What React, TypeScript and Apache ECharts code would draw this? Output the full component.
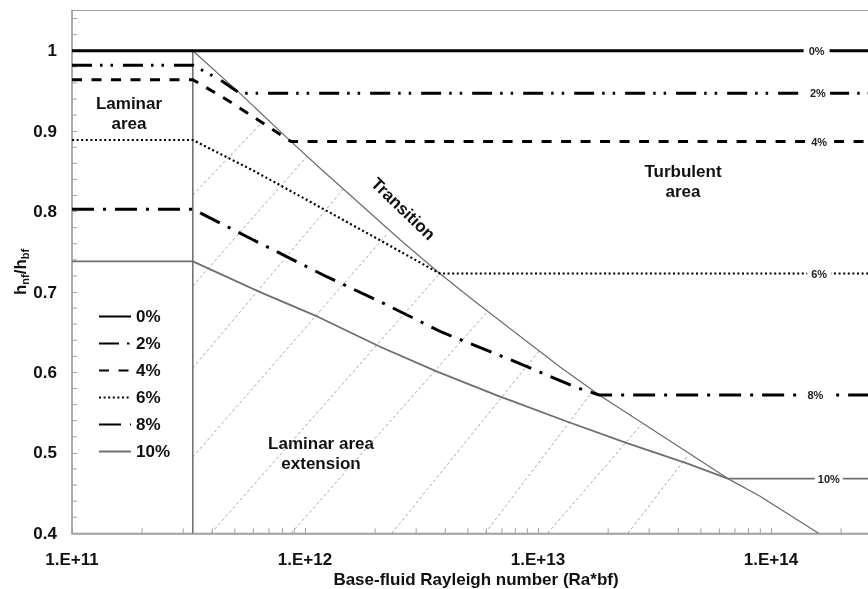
import React, { useEffect, useRef } from "react";
import * as echarts from "echarts";

// ---------- data ----------
const X_MIN = 1e11;
const X_MAX = 2.66e14;
const seriesNames = ["0%", "2%", "4%", "6%", "8%", "10%"];

const ra0 = [1e11, 2.66e14];
const h0 = [1.0, 1.0];

const ra2 = [1e11, 3.3e11, 4.31e11, 5.26e11, 2.66e14];
const h2 = [0.982, 0.982, 0.964, 0.947, 0.947];

const ra4 = [1e11, 3.3e11, 4.81e11, 8.71e11, 2.66e14];
const h4 = [0.964, 0.964, 0.936, 0.887, 0.887];

const ra6 = [1e11, 3.3e11, 6.09e11, 1.22e12, 2.14e12, 3.79e12, 2.66e14];
const h6 = [0.889, 0.889, 0.85, 0.802, 0.763, 0.723, 0.723];

const ra8 = [1e11, 3.3e11, 5.98e11, 1.24e12, 2.1e12, 3.87e12, 8.21e12, 1.47e13, 1.83e13, 2.66e14];
const h8 = [0.803, 0.803, 0.765, 0.719, 0.688, 0.65, 0.612, 0.581, 0.572, 0.572];

const ra10 = [1e11, 3.3e11, 6.53e11, 1.14e12, 2.1e12, 3.69e12, 6.87e12, 1.33e13, 2.41e13, 4.36e13, 6.53e13, 2.66e14];
const h10 = [0.738, 0.738, 0.699, 0.669, 0.632, 0.601, 0.57, 0.539, 0.512, 0.487, 0.468, 0.468];

// transition curve
const raT = [3.3e11, 5.26e11, 8.71e11, 1.18e12, 2.56e12, 3.79e12, 5.26e12, 1.24e13, 1.83e13, 6.53e13, 8.98e13, 1.6e14];
const hT = [1.0, 0.947, 0.887, 0.852, 0.765, 0.723, 0.69, 0.607, 0.572, 0.468, 0.446, 0.4];

// laminar limit (vertical line)
const raV = [3.3e11, 3.3e11];
const hV = [0.4, 1.0];

// hatch lines of the laminar area extension: start (Ra, h) -> end (Ra, h)
const hatchRaStart = [3.3e11, 3.3e11, 3.3e11, 3.3e11, 3.95e11, 8.71e11, 2.36e12, 5.93e12, 1.1e13, 2.43e13];
const hatchHStart = [0.8206, 0.7075, 0.6055, 0.4948, 0.4, 0.4, 0.4, 0.4, 0.4, 0.4];
const hatchRaEnd = [6.81e11, 1.02e12, 1.47e12, 2.23e12, 3.84e12, 6.1e12, 1.01e13, 1.67e13, 2.79e13, 4.41e13];
const hatchHEnd = [0.9163, 0.869, 0.829, 0.7709, 0.7249, 0.6764, 0.6266, 0.572, 0.5359, 0.4973];

// in-line labels on the turbulent part
const lineLabelRa = [1.57e14, 1.59e14, 1.61e14, 1.61e14, 1.55e14, 1.77e14];

// axis tick values
const yMinorTicks = [0.42, 0.44, 0.46, 0.48, 0.52, 0.54, 0.56, 0.58, 0.62, 0.64, 0.66, 0.68, 0.72, 0.74, 0.76, 0.78, 0.82, 0.84, 0.86, 0.88, 0.92, 0.94, 0.96, 0.98, 1.02, 1.04];
const xMinorMantissa = [2, 3, 4, 5, 6, 7, 8, 9];
const xDecades = [1e11, 1e12, 1e13, 1e14];

const FONT = '"Liberation Sans", Arial, sans-serif';

const zip = (a: number[], b: number[]) => a.map((v, i) => [v, b[i]]);

export default function App() {
  const ref = useRef<HTMLDivElement>(null);

  useEffect(() => {
    if (!ref.current) return;
    const chart = echarts.init(ref.current, undefined, { renderer: "svg" });

    const xMinorTicks: number[] = [];
    xDecades.forEach((d) => xMinorMantissa.forEach((m) => { if (m * d < X_MAX) xMinorTicks.push(m * d); }));

    const styles = [
      { color: "#000", width: 3, dash: "solid" as any, labelW: 26 },
      { color: "#000", width: 3, dash: [20, 8, 2.5, 8, 2.5, 10], labelW: 24 },
      { color: "#000", width: 3, dash: [10, 9.5], labelW: 24 },
      { color: "#000", width: 2.2, dash: [2, 2.6], labelW: 24 },
      { color: "#000", width: 3, dash: [22, 9, 3, 9], labelW: 26 },
      { color: "#6e6e6e", width: 1.8, dash: "solid" as any, labelW: 28 },
    ];
    const raArr = [ra0, ra2, ra4, ra6, ra8, ra10];
    const hArr = [h0, h2, h4, h6, h8, h10];

    const concSeries = seriesNames.map((name, i) => ({
      name,
      type: "line",
      data: zip(raArr[i], hArr[i]),
      symbol: "none",
      z: 4,
      lineStyle: { color: styles[i].color, width: styles[i].width, type: styles[i].dash, cap: "butt" },
      itemStyle: { color: styles[i].color },
      markPoint: {
        symbol: "rect",
        symbolSize: [styles[i].labelW, 12],
        itemStyle: { color: "#ffffff", opacity: 1 },
        silent: true,
        z: 10,
        label: {
          show: true,
          position: "inside",
          formatter: name,
          color: "#222",
          fontSize: 11,
          fontWeight: "bold",
          fontFamily: FONT,
        },
        data: [{ coord: [lineLabelRa[i], hArr[i][hArr[i].length - 1]] }],
      },
    }));

    const hatchData = hatchRaStart.map((r, i) => [r, hatchHStart[i], hatchRaEnd[i], hatchHEnd[i]]);

    chart.setOption({
      animation: false,
      textStyle: { fontFamily: FONT },
      grid: {
        left: 72,
        top: 10.5,
        right: -2,
        bottom: 55.7,
        containLabel: false,
        outerBoundsMode: "none",
        show: true,
        borderColor: "#a0a0a0",
        borderWidth: 1.2,
      },
      legend: {
        orient: "vertical",
        left: 93,
        top: 303,
        itemWidth: 32,
        itemHeight: 17,
        itemGap: 10,
        selectedMode: false,
        itemStyle: { opacity: 0 },
        data: seriesNames,
        textStyle: { fontSize: 17, fontWeight: "bold", color: "#111", fontFamily: FONT, lineHeight: 17 },
      },
      xAxis: {
        type: "log",
        logBase: 10,
        min: X_MIN,
        max: X_MAX,
        splitLine: { show: false },
        axisLine: { lineStyle: { color: "#a0a0a0", width: 1.5 } },
        axisTick: { inside: true, length: 5, lineStyle: { color: "#a0a0a0" } },
        axisLabel: {
          fontSize: 17,
          fontWeight: "bold",
          color: "#111",
          fontFamily: FONT,
          margin: 18,
          formatter: (v: number) => {
            const e = Math.log10(v);
            return Math.abs(e - Math.round(e)) < 1e-6 ? `1.E+${Math.round(e)}` : "";
          },
        },
        name: "Base-fluid Rayleigh number (Ra*bf)",
        nameLocation: "middle",
        nameGap: 38,
        nameMoveOverlap: false,
        nameTextStyle: { fontSize: 17, fontWeight: "bold", color: "#111", fontFamily: FONT, lineHeight: 17, padding: [0, 0, 0, 10] },
      },
      yAxis: {
        type: "value",
        min: 0.4,
        max: 1.05,
        interval: 0.1,
        splitLine: { show: false },
        axisLine: { lineStyle: { color: "#a0a0a0", width: 1.5 } },
        axisTick: { inside: true, length: 5, lineStyle: { color: "#a0a0a0" } },
        axisLabel: {
          fontSize: 17,
          fontWeight: "bold",
          color: "#111",
          fontFamily: FONT,
          margin: 15,
          formatter: (v: number) => {
            if (Math.abs(v * 10 - Math.round(v * 10)) > 1e-6) return "";
            return Math.abs(v - 1) < 1e-6 ? "1" : v.toFixed(1);
          },
        },
        name: "{a|h}{b|nf}{a|/h}{b|bf}",
        nameLocation: "middle",
        nameGap: 42,
        nameMoveOverlap: false,
        nameTextStyle: {
          rich: {
            a: { fontSize: 17, fontWeight: "bold", color: "#111", fontFamily: FONT, lineHeight: 20 },
            b: { fontSize: 11, fontWeight: "bold", color: "#111", fontFamily: FONT, verticalAlign: "bottom" },
          },
        },
      },
      series: [
        {
          name: "hatch",
          type: "custom",
          silent: true,
          z: 1,
          data: hatchData,
          encode: { x: [0, 2], y: [1, 3] },
          renderItem: (_p: any, api: any) => {
            const a = api.coord([api.value(0), api.value(1)]);
            const b = api.coord([api.value(2), api.value(3)]);
            return {
              type: "line",
              shape: { x1: a[0], y1: a[1], x2: b[0], y2: b[1] },
              style: { stroke: "#a8a8a8", lineWidth: 1, lineDash: [3, 2.5] },
            };
          },
        },
        {
          name: "xMinor",
          type: "custom",
          silent: true,
          z: 2,
          data: xMinorTicks.map((v) => [v, 0.4]),
          renderItem: (_p: any, api: any) => {
            const a = api.coord([api.value(0), api.value(1)]);
            return {
              type: "line",
              shape: { x1: a[0], y1: a[1], x2: a[0], y2: a[1] - 5 },
              style: { stroke: "#a0a0a0", lineWidth: 1 },
            };
          },
        },
        {
          name: "yMinor",
          type: "custom",
          silent: true,
          z: 2,
          data: yMinorTicks.map((v) => [X_MIN, v]),
          renderItem: (_p: any, api: any) => {
            const a = api.coord([api.value(0), api.value(1)]);
            return {
              type: "line",
              shape: { x1: a[0], y1: a[1], x2: a[0] + 5, y2: a[1] },
              style: { stroke: "#a0a0a0", lineWidth: 1 },
            };
          },
        },
        {
          name: "laminarLimit",
          type: "line",
          data: zip(raV, hV),
          symbol: "none",
          z: 3,
          lineStyle: { color: "#6a6a6a", width: 1.5 },
        },
        {
          name: "transition",
          type: "line",
          data: zip(raT, hT),
          symbol: "none",
          z: 3,
          lineStyle: { color: "#6a6a6a", width: 1.2 },
        },
        ...concSeries,
      ],
      graphic: [
        {
          type: "text",
          x: 129,
          y: 113,
          style: { text: "Laminar\narea", font: `bold 17px ${FONT}`, fill: "#111", align: "center", verticalAlign: "middle", lineHeight: 20 },
        },
        {
          type: "text",
          x: 683,
          y: 181,
          style: { text: "Turbulent\narea", font: `bold 17px ${FONT}`, fill: "#111", align: "center", verticalAlign: "middle", lineHeight: 20 },
        },
        {
          type: "text",
          x: 321,
          y: 453,
          style: { text: "Laminar area\nextension", font: `bold 17px ${FONT}`, fill: "#111", align: "center", verticalAlign: "middle", lineHeight: 20 },
        },
        {
          type: "text",
          x: 403,
          y: 209,
          rotation: -44 * Math.PI / 180,
          style: { text: "Transition", font: `bold 17px ${FONT}`, fill: "#111", align: "center", verticalAlign: "middle" },
        },
      ],
    });

    return () => chart.dispose();
  }, []);

  return <div ref={ref} style={{ position: "fixed", left: 0, top: 0, width: 868, height: 589 }} />;
}
